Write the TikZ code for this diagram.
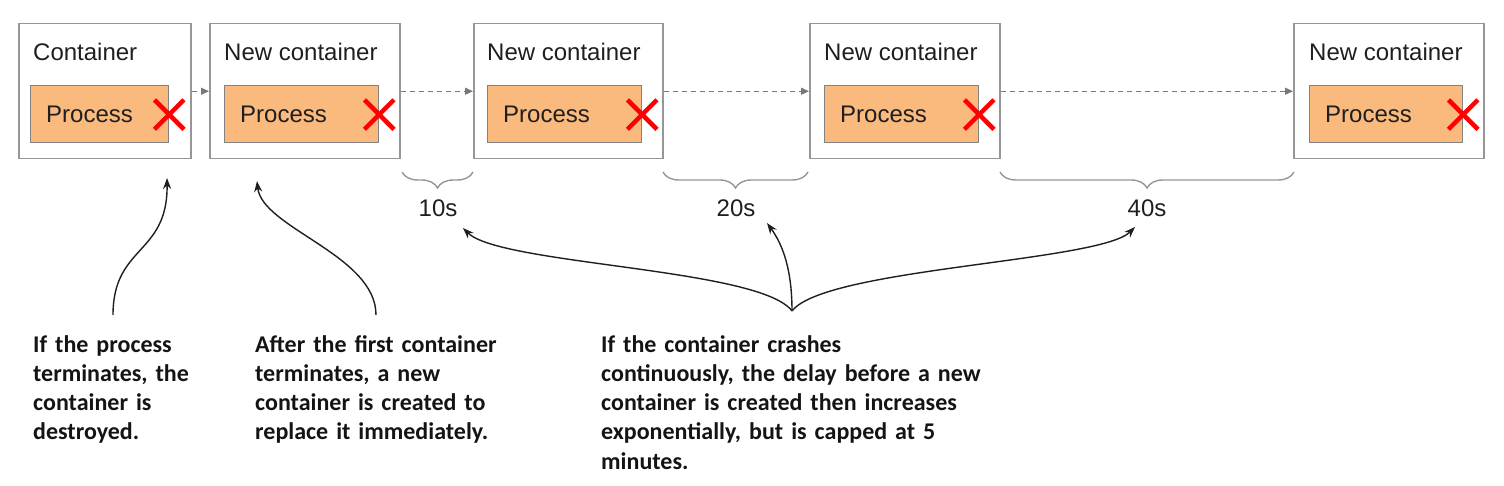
\documentclass[tikz,border=0pt]{standalone}
\usepackage{fontspec}
\setmainfont{Liberation Sans}
\newfontfamily\notefont{Carlito}
\usetikzlibrary{arrows.meta,decorations.pathreplacing,shapes.misc}
\definecolor{boxgray}{RGB}{150,150,150}
\definecolor{procfill}{RGB}{251,186,125}
\definecolor{procdraw}{RGB}{130,130,130}
\definecolor{xred}{RGB}{255,0,0}
\definecolor{dashgray}{RGB}{120,120,120}
\definecolor{bracegray}{RGB}{150,150,150}
\begin{document}
\begin{tikzpicture}[x=1pt,y=-1pt,
 container/.style={draw=boxgray,line width=1.5pt,anchor=north west,inner sep=0pt,minimum height=135pt},
 proc/.style={draw=procdraw,fill=procfill,line width=1.2pt,anchor=north west,inner sep=0pt,minimum height=57pt},
 ttl/.style={anchor=base west,inner sep=0pt,font=\fontsize{24}{29}\selectfont,text=black!88},
 xmark/.style={cross out,draw=xred,line width=4.5pt,minimum size=25pt,inner sep=0pt},
 dasharrow/.style={draw=dashgray,line width=1.2pt,dash pattern=on 5pt off 4pt,-{Triangle[length=8pt,width=7pt]}},
 bracestyle/.style={draw=bracegray,line width=1.4pt,decorate,decoration={brace,mirror,amplitude=16pt}},
 lbl/.style={anchor=base,inner sep=0pt,font=\fontsize{24}{29}\selectfont,text=black!88},
 note/.style={anchor=base west,inner sep=0pt,align=left,text width=420pt,font=\notefont\bfseries\fontsize{24}{29.3}\selectfont,text=black!92},
 callout/.style={draw=black!88,line width=1.4pt,-{Stealth[length=11pt,width=8pt]}}
]
\useasboundingbox (0,0) rectangle (1504,486);
% containers
\node[container,minimum width=172pt] (c1) at (18,23) {};
\node[container,minimum width=190pt] (c2) at (209,23) {};
\node[container,minimum width=189pt] (c3) at (473,23) {};
\node[container,minimum width=190pt] (c4) at (809,23) {};
\node[container,minimum width=190pt] (c5) at (1293,23) {};
% titles
\node[ttl] (t1) at (33,61) {Container};
\node[ttl] (t2) at (224,61) {New container};
\node[ttl] (t3) at (487,61) {New container};
\node[ttl] (t4) at (824,61) {New container};
\node[ttl] (t5) at (1309,61) {New container};
% processes
\node[proc,minimum width=138pt] (p1) at (30,85) {};
\node[proc,minimum width=154pt] (p2) at (224,85) {};
\node[proc,minimum width=154pt] (p3) at (487,85) {};
\node[proc,minimum width=154pt] (p4) at (824,85) {};
\node[proc,minimum width=153pt] (p5) at (1309,85) {};
\node[ttl] (pt1) at (46,123) {Process};
\node[ttl] (pt2) at (240,123) {Process};
\node[ttl] (pt3) at (503,123) {Process};
\node[ttl] (pt4) at (840,123) {Process};
\node[ttl] (pt5) at (1325,123) {Process};
% crosses
\node[xmark] (x1) at ([yshift=-0.5pt]p1.east) {};
\node[xmark] (x2) at ([yshift=-0.5pt]p2.east) {};
\node[xmark] (x3) at ([yshift=-0.5pt]p3.east) {};
\node[xmark] (x4) at ([yshift=-0.5pt]p4.east) {};
\node[xmark] (x5) at ([yshift=-0.5pt]p5.east) {};
% dashed arrows
\draw[dasharrow] (c1.east) -- (c2.west);
\draw[dasharrow] (c2.east) -- (c3.west);
\draw[dasharrow] (c3.east) -- (c4.west);
\draw[dasharrow] (c4.east) -- (c5.west);
% braces
\coordinate (b1a) at (402,172); \coordinate (b1b) at (473,172);
\coordinate (b2a) at (663,172); \coordinate (b2b) at (808,172);
\coordinate (b3a) at (1000,172); \coordinate (b3b) at (1294,172);
\draw[bracestyle] (b1a) -- (b1b);
\draw[bracestyle] (b2a) -- (b2b);
\draw[bracestyle] (b3a) -- (b3b);
\node[lbl] (l10) at (438,217) {10s};
\node[lbl] (l20) at (736,217) {20s};
\node[lbl] (l40) at (1147,217) {40s};
% notes
\node[note] (n1) at (33,352) {If the process\\terminates, the\\container is\\destroyed.};
\node[note] (n2) at (255,352) {After the first container\\terminates, a new\\container is created to\\replace it immediately.};
\node[note] (n3) at (601,352) {If the container crashes\\continuously, the delay before a new\\container is created then increases\\exponentially, but is capped at 5\\minutes.};
% callouts
\coordinate (s1) at (113,315); \coordinate (e1) at (167,178);
\coordinate (s2) at (376,315); \coordinate (e2) at (257,181);
\coordinate (j) at (792,311);
\coordinate (e3) at (463,228); \coordinate (e4) at (767,223); \coordinate (e5) at (1135,227);
\draw[callout] (s1) .. controls (113,245) and (168,255) .. (e1);
\draw[callout] (s2) .. controls (376,255) and (262,228) .. (e2);
\draw[callout] (j) .. controls (760,268) and (500,265) .. (e3);
\draw[callout] (j) .. controls (792,270) and (783,245) .. (e4);
\draw[callout] (j) .. controls (825,268) and (1100,262) .. (e5);
\end{tikzpicture}
\end{document}
